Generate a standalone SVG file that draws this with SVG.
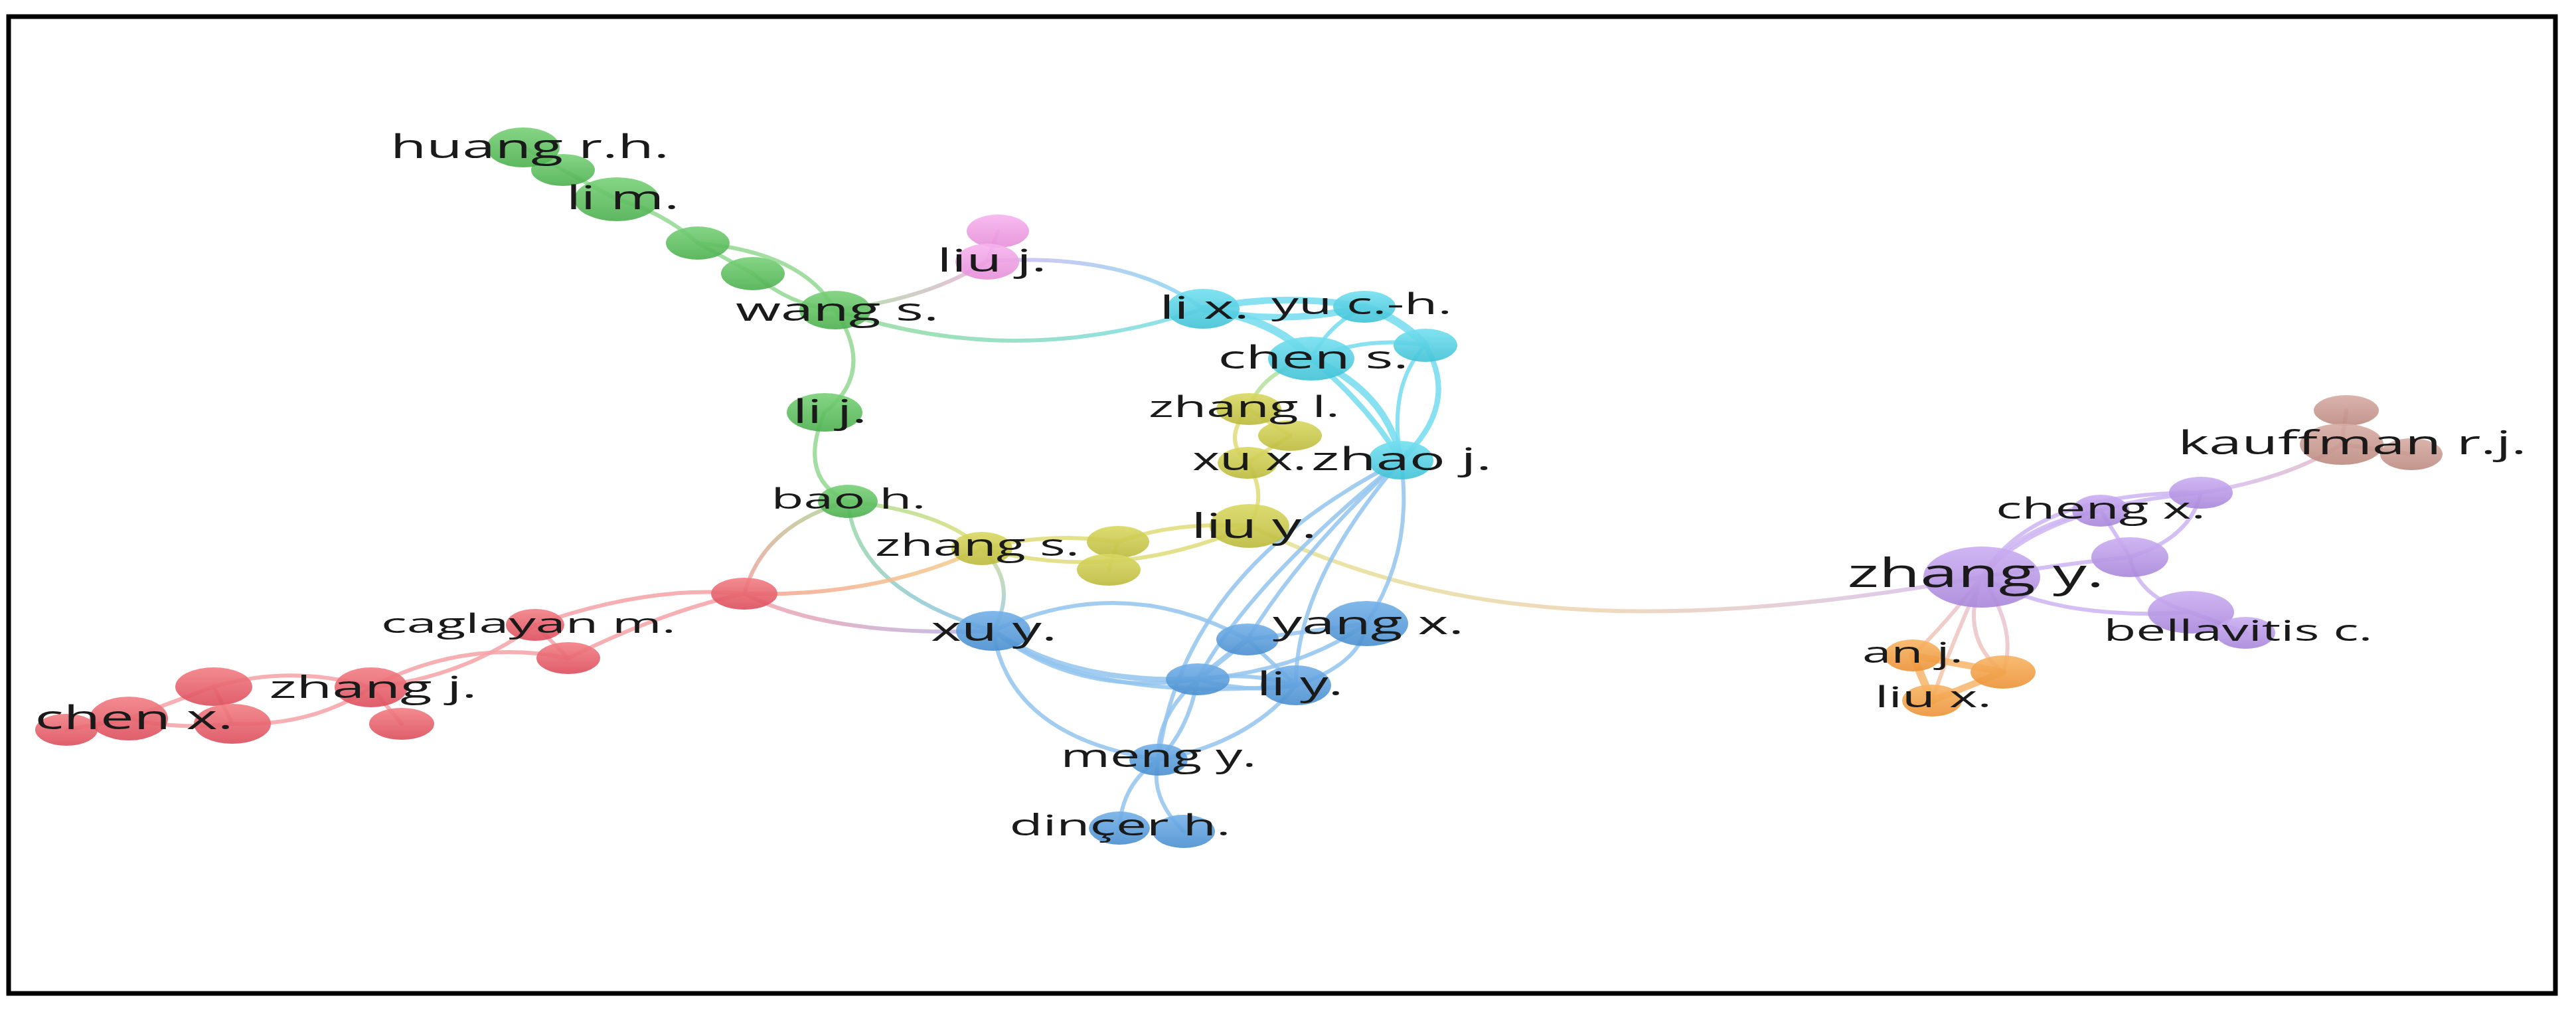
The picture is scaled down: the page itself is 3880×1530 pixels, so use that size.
<svg xmlns="http://www.w3.org/2000/svg" width="3880" height="1530" viewBox="0 0 3880 1530">
<defs>
<linearGradient id="fGreen" x1="0" y1="0" x2="0" y2="1"><stop offset="0" stop-color="#78d078"/><stop offset="1" stop-color="#4cb04e"/></linearGradient>
<linearGradient id="fRed" x1="0" y1="0" x2="0" y2="1"><stop offset="0" stop-color="#f27e84"/><stop offset="1" stop-color="#dc4d5c"/></linearGradient>
<linearGradient id="fCyan" x1="0" y1="0" x2="0" y2="1"><stop offset="0" stop-color="#74dff0"/><stop offset="1" stop-color="#40c2d6"/></linearGradient>
<linearGradient id="fYellow" x1="0" y1="0" x2="0" y2="1"><stop offset="0" stop-color="#d9d862"/><stop offset="1" stop-color="#bbba3c"/></linearGradient>
<linearGradient id="fBlue" x1="0" y1="0" x2="0" y2="1"><stop offset="0" stop-color="#74b0e8"/><stop offset="1" stop-color="#4a8fcf"/></linearGradient>
<linearGradient id="fPurple" x1="0" y1="0" x2="0" y2="1"><stop offset="0" stop-color="#cbaef2"/><stop offset="1" stop-color="#a886da"/></linearGradient>
<linearGradient id="fOrange" x1="0" y1="0" x2="0" y2="1"><stop offset="0" stop-color="#f7b464"/><stop offset="1" stop-color="#ec9236"/></linearGradient>
<linearGradient id="fBrown" x1="0" y1="0" x2="0" y2="1"><stop offset="0" stop-color="#d6aca4"/><stop offset="1" stop-color="#bc8a80"/></linearGradient>
<linearGradient id="fPink" x1="0" y1="0" x2="0" y2="1"><stop offset="0" stop-color="#f6b4ee"/><stop offset="1" stop-color="#e68ed8"/></linearGradient>
<linearGradient id="gWangLiuj" gradientUnits="userSpaceOnUse" x1="1258" y1="467" x2="1487" y2="393"><stop offset="0" stop-color="#a8dca0"/><stop offset="1" stop-color="#e8b0d8"/></linearGradient>
<linearGradient id="gWangLix" gradientUnits="userSpaceOnUse" x1="1258" y1="467" x2="1812" y2="465"><stop offset="0" stop-color="#94da94"/><stop offset="1" stop-color="#7adcee"/></linearGradient>
<linearGradient id="gLiujLix" gradientUnits="userSpaceOnUse" x1="1487" y1="393" x2="1812" y2="465"><stop offset="0" stop-color="#d6b8f0"/><stop offset="1" stop-color="#80d8f0"/></linearGradient>
<linearGradient id="gBaoZs" gradientUnits="userSpaceOnUse" x1="1277" y1="755" x2="1479" y2="826"><stop offset="0" stop-color="#a6dc96"/><stop offset="1" stop-color="#dede78"/></linearGradient>
<linearGradient id="gBaoRed" gradientUnits="userSpaceOnUse" x1="1277" y1="755" x2="1121" y2="894"><stop offset="0" stop-color="#a8d898"/><stop offset="1" stop-color="#f4a09a"/></linearGradient>
<linearGradient id="gBaoXuy" gradientUnits="userSpaceOnUse" x1="1277" y1="755" x2="1496" y2="950"><stop offset="0" stop-color="#9ad8a4"/><stop offset="1" stop-color="#8cc2ec"/></linearGradient>
<linearGradient id="gZsRed" gradientUnits="userSpaceOnUse" x1="1479" y1="826" x2="1121" y2="894"><stop offset="0" stop-color="#f2d08a"/><stop offset="1" stop-color="#f6a092"/></linearGradient>
<linearGradient id="gZsXuy" gradientUnits="userSpaceOnUse" x1="1479" y1="826" x2="1496" y2="950"><stop offset="0" stop-color="#d2dc94"/><stop offset="1" stop-color="#94c8e8"/></linearGradient>
<linearGradient id="gRedXuy" gradientUnits="userSpaceOnUse" x1="1121" y1="894" x2="1496" y2="950"><stop offset="0" stop-color="#f2a2a8"/><stop offset="1" stop-color="#b4b4e8"/></linearGradient>
<linearGradient id="gChenZl" gradientUnits="userSpaceOnUse" x1="1975" y1="540" x2="1881" y2="616"><stop offset="0" stop-color="#9ee0b4"/><stop offset="1" stop-color="#c4e08c"/></linearGradient>
<linearGradient id="gLiuyZy" gradientUnits="userSpaceOnUse" x1="1882" y1="792" x2="2985" y2="869"><stop offset="0" stop-color="#e4e28c"/><stop offset="0.5" stop-color="#ecd2b4"/><stop offset="1" stop-color="#d4bcf2"/></linearGradient>
<linearGradient id="gZyOr" gradientUnits="userSpaceOnUse" x1="2985" y1="869" x2="2900" y2="1030"><stop offset="0" stop-color="#e4c4e0"/><stop offset="1" stop-color="#f6c4a0"/></linearGradient>
<linearGradient id="gPKauf" gradientUnits="userSpaceOnUse" x1="3315" y1="742" x2="3527" y2="669"><stop offset="0" stop-color="#d4bcf2"/><stop offset="1" stop-color="#e2bcc6"/></linearGradient>
<style>
.nd{fill-opacity:0.9}
.green{fill:url(#fGreen)} .red{fill:url(#fRed)} .cyan{fill:url(#fCyan)} .yellow{fill:url(#fYellow)} .blue{fill:url(#fBlue)} .purple{fill:url(#fPurple)} .orange{fill:url(#fOrange)} .brown{fill:url(#fBrown)} .pink{fill:url(#fPink)}
.lb{font-family:"Open Sans","Noto Sans","DejaVu Sans",sans-serif;fill:#1a1a1a;text-anchor:middle}
#edges path{fill:none;stroke-linecap:round;stroke-opacity:0.85;stroke-width:6}
.eg{stroke:#92d892} .ey{stroke:#dedc78} .ec{stroke:#72dcee} .eb{stroke:#92c4ee} .er{stroke:#f4a2a6} .ep{stroke:#ccb4f2} .eo{stroke:#f6b46a} .ebr{stroke:#d8aaa2} .epk{stroke:#eeaee2}
</style>
</defs>
<rect x="0" y="0" width="3880" height="1530" fill="#ffffff"/>
<rect x="13" y="25" width="3836" height="1471" fill="none" stroke="#000000" stroke-width="7"/>
<g id="edges">
<path class="eg" d="M789,221 L848,256"/>
<path class="eg" d="M848,256 L929,300"/>
<path class="eg" d="M929,300 Q1000,320 1051,366"/>
<path class="eg" d="M1051,366 Q1210,380 1258,467"/>
<path class="eg" d="M1051,366 L1134,412"/>
<path class="eg" d="M1134,412 Q1190,460 1258,467"/>
<path class="eg" d="M1258,467 Q1320,560 1242,621"/>
<path class="eg" d="M1242,621 Q1200,720 1277,755"/>
<path class="epk" d="M1503,348 L1487,393"/>
<path stroke="url(#gWangLiuj)" d="M1258,467 Q1400,450 1487,393"/>
<path stroke="url(#gWangLix)" d="M1258,467 Q1530,560 1812,465"/>
<path stroke="url(#gLiujLix)" d="M1487,393 Q1700,380 1812,465"/>
<path stroke="url(#gBaoZs)" d="M1277,755 Q1420,770 1479,826"/>
<path stroke="url(#gBaoRed)" d="M1277,755 Q1150,790 1121,894"/>
<path stroke="url(#gBaoXuy)" d="M1277,755 Q1290,890 1496,950"/>
<path stroke="url(#gZsRed)" d="M1479,826 Q1320,900 1121,894"/>
<path stroke="url(#gZsXuy)" d="M1479,826 Q1535,880 1496,950"/>
<path stroke="url(#gRedXuy)" d="M1121,894 Q1250,960 1496,950"/>
<path stroke="url(#gChenZl)" d="M1975,540 Q1900,560 1881,616"/>
<path stroke="url(#gLiuyZy)" d="M1882,792 C2150,920 2450,965 2985,869"/>
<path class="ey" d="M1881,616 L1943,656"/>
<path class="ey" d="M1881,616 Q1840,660 1879,697"/>
<path class="ey" d="M1879,697 Q1910,745 1882,792"/>
<path class="ey" d="M1879,697 L1943,656"/>
<path class="ey" d="M1882,792 Q1770,785 1684,816"/>
<path class="ey" d="M1684,816 Q1580,800 1479,826"/>
<path class="ey" d="M1479,826 Q1680,880 1882,792"/>
<path class="ey" d="M1684,816 L1670,858"/>
<path class="ec" style="stroke-width:10" d="M1812,465 Q1930,440 2055,462"/>
<path class="ec" style="stroke-width:10" d="M1812,465 Q1930,492 2055,462"/>
<path class="ec" style="stroke-width:12" d="M1812,465 Q1920,480 1975,540"/>
<path class="ec" style="stroke-width:12" d="M2055,462 Q2110,480 2147,520"/>
<path class="ec" d="M2055,462 Q2000,490 1975,540"/>
<path class="ec" d="M1975,540 Q2060,505 2147,520"/>
<path class="ec" style="stroke-width:10" d="M1975,540 Q2090,590 2110,693"/>
<path class="ec" style="stroke-width:8" d="M1975,540 Q2060,610 2110,693"/>
<path class="ec" style="stroke-width:8" d="M2147,520 Q2200,610 2110,693"/>
<path class="ec" d="M2147,520 Q2090,580 2110,693"/>
<path class="eb" d="M2110,693 Q1780,860 1745,1144"/>
<path class="eb" d="M2110,693 Q1880,880 1804,1023"/>
<path class="eb" d="M2110,693 Q1950,880 1952,1032"/>
<path class="eb" d="M2110,693 Q2130,830 2058,939"/>
<path class="eb" d="M2110,693 Q1960,830 1879,963"/>
<path class="eb" d="M1496,950 Q1690,860 1879,963"/>
<path class="eb" style="stroke-width:8" d="M1496,950 Q1610,1030 1804,1023"/>
<path class="eb" d="M1496,950 Q1620,1050 1804,1023"/>
<path class="eb" d="M1496,950 Q1640,1060 1952,1032"/>
<path class="eb" d="M1496,950 Q1520,1110 1745,1144"/>
<path class="eb" d="M1879,963 L2058,939"/>
<path class="eb" style="stroke-width:8" d="M1879,963 L1804,1023"/>
<path class="eb" d="M1879,963 L1952,1032"/>
<path class="eb" d="M1804,1023 Q1880,1010 1952,1032"/>
<path class="eb" d="M1804,1023 Q1880,1045 1952,1032"/>
<path class="eb" d="M2058,939 Q2050,1000 1952,1032"/>
<path class="eb" d="M2058,939 Q1960,1010 1804,1023"/>
<path class="eb" d="M1804,1023 Q1740,1080 1745,1144"/>
<path class="eb" d="M1804,1023 Q1790,1100 1745,1144"/>
<path class="eb" d="M1952,1032 Q1880,1120 1745,1144"/>
<path class="eb" d="M1745,1144 Q1690,1180 1686,1247"/>
<path class="eb" d="M1745,1144 Q1730,1200 1783,1252"/>
<path class="er" d="M1121,894 Q980,880 806,941"/>
<path class="er" d="M1121,894 Q1000,920 856,991"/>
<path class="er" d="M806,941 L856,991"/>
<path class="er" d="M806,941 Q700,1020 559,1035"/>
<path class="er" d="M856,991 Q700,960 559,1035"/>
<path class="er" d="M559,1035 L605,1090"/>
<path class="er" d="M559,1035 Q440,1000 322,1034"/>
<path class="er" d="M559,1035 Q470,1095 350,1090"/>
<path class="er" d="M322,1034 L194,1082"/>
<path class="er" d="M322,1034 L350,1090"/>
<path class="er" d="M194,1082 L100,1099"/>
<path class="er" d="M194,1082 Q270,1100 350,1090"/>
<path class="ep" d="M2985,869 Q3040,790 3164,769"/>
<path class="ep" d="M2985,869 Q3060,740 3315,742"/>
<path class="ep" d="M2985,869 Q3070,765 3315,742"/>
<path class="ep" d="M3164,769 L3208,839"/>
<path class="ep" d="M3315,742 Q3300,810 3208,839"/>
<path class="ep" d="M3208,839 Q3220,900 3300,922"/>
<path class="ep" d="M2985,869 Q3100,935 3300,922"/>
<path class="ep" d="M2985,869 Q3100,850 3208,839"/>
<path class="ep" d="M3300,922 L3382,953"/>
<path stroke="url(#gPKauf)" d="M3315,742 Q3450,720 3527,669"/>
<path stroke="url(#gZyOr)" d="M2985,869 Q2930,940 2881,987"/>
<path stroke="url(#gZyOr)" d="M2985,869 Q2950,960 3017,1012"/>
<path stroke="url(#gZyOr)" d="M2985,869 Q3040,950 3017,1012"/>
<path stroke="url(#gZyOr)" d="M2985,869 Q2935,980 2910,1055"/>
<path class="eo" style="stroke-width:12" d="M2881,987 L2910,1055"/>
<path class="eo" style="stroke-width:10" d="M2881,987 L3017,1012"/>
<path class="eo" style="stroke-width:10" d="M3017,1012 L2910,1055"/>
<path class="ebr" d="M3534,618 L3527,669"/>
<path class="ebr" d="M3527,669 L3632,684"/>
</g>
<g id="n-green-2"><ellipse class="nd green" cx="848" cy="256" rx="48" ry="24"/></g>
<g id="n-green-4"><ellipse class="nd green" cx="1051" cy="366" rx="48" ry="25"/></g>
<g id="n-green-5"><ellipse class="nd green" cx="1134" cy="412" rx="48" ry="25"/></g>
<g id="n-pink-2"><ellipse class="nd pink" cx="1503" cy="348" rx="47" ry="25"/></g>
<g id="n-cyan-5"><ellipse class="nd cyan" cx="2147" cy="520" rx="48" ry="25"/></g>
<g id="n-yellow-2"><ellipse class="nd yellow" cx="1943" cy="656" rx="48" ry="23"/></g>
<g id="n-yellow-a"><ellipse class="nd yellow" cx="1684" cy="816" rx="47" ry="24"/></g>
<g id="n-yellow-b"><ellipse class="nd yellow" cx="1670" cy="858" rx="48" ry="24"/></g>
<g id="n-blue-a"><ellipse class="nd blue" cx="1879" cy="963" rx="47" ry="24"/></g>
<g id="n-blue-b"><ellipse class="nd blue" cx="1804" cy="1023" rx="48" ry="24"/></g>
<g id="n-blue-dincer-2"><ellipse class="nd blue" cx="1783" cy="1252" rx="47" ry="25"/></g>
<g id="n-red-hub"><ellipse class="nd red" cx="1121" cy="894" rx="50" ry="24"/></g>
<g id="n-red-b"><ellipse class="nd red" cx="856" cy="991" rx="48" ry="24"/></g>
<g id="n-red-c"><ellipse class="nd red" cx="605" cy="1090" rx="49" ry="24"/></g>
<g id="n-red-d"><ellipse class="nd red" cx="322" cy="1034" rx="58" ry="29"/></g>
<g id="n-red-e"><ellipse class="nd red" cx="100" cy="1099" rx="47" ry="24"/></g>
<g id="n-red-f"><ellipse class="nd red" cx="350" cy="1090" rx="58" ry="30"/></g>
<g id="n-purple-a"><ellipse class="nd purple" cx="3315" cy="742" rx="48" ry="24"/></g>
<g id="n-purple-b"><ellipse class="nd purple" cx="3208" cy="839" rx="58" ry="30"/></g>
<g id="n-purple-c"><ellipse class="nd purple" cx="3300" cy="922" rx="65" ry="32"/></g>
<g id="n-orange-b"><ellipse class="nd orange" cx="3017" cy="1012" rx="49" ry="25"/></g>
<g id="n-brown-top"><ellipse class="nd brown" cx="3534" cy="618" rx="49" ry="23"/></g>
<g id="n-brown-right"><ellipse class="nd brown" cx="3632" cy="684" rx="47" ry="24"/></g>
<g id="n-huang-rh"><ellipse class="nd green" cx="788" cy="222" rx="55" ry="30"/><text class="lb" x="798" y="238" font-size="49" textLength="420" lengthAdjust="spacingAndGlyphs">huang r.h.</text></g>
<g id="n-li-m"><ellipse class="nd green" cx="929" cy="300" rx="64" ry="33"/><text class="lb" x="938" y="315" font-size="49" textLength="170" lengthAdjust="spacingAndGlyphs">li m.</text></g>
<g id="n-wang-s"><ellipse class="nd green" cx="1258" cy="467" rx="54" ry="29"/><text class="lb" x="1261" y="483" font-size="48" textLength="306" lengthAdjust="spacingAndGlyphs">wang s.</text></g>
<g id="n-li-j"><ellipse class="nd green" cx="1242" cy="621" rx="57" ry="29"/><text class="lb" x="1250" y="637" font-size="49" textLength="112" lengthAdjust="spacingAndGlyphs">li j.</text></g>
<g id="n-bao-h"><ellipse class="nd green" cx="1277" cy="755" rx="45" ry="25"/><text class="lb" x="1278" y="766" font-size="42" textLength="233" lengthAdjust="spacingAndGlyphs">bao h.</text></g>
<g id="n-liu-j"><ellipse class="nd pink" cx="1487" cy="394" rx="48" ry="27"/><text class="lb" x="1494" y="409" font-size="47" textLength="165" lengthAdjust="spacingAndGlyphs">liu j.</text></g>
<g id="n-li-x"><ellipse class="nd cyan" cx="1812" cy="465" rx="55" ry="30"/><text class="lb" x="1814" y="480" font-size="47" textLength="135" lengthAdjust="spacingAndGlyphs">li x.</text></g>
<g id="n-yu-ch"><ellipse class="nd cyan" cx="2055" cy="462" rx="47" ry="24"/><text class="lb" x="2051" y="473" font-size="44" textLength="272" lengthAdjust="spacingAndGlyphs">yu c.-h.</text></g>
<g id="n-chen-s"><ellipse class="nd cyan" cx="1975" cy="540" rx="65" ry="33"/><text class="lb" x="1978" y="555" font-size="47" textLength="287" lengthAdjust="spacingAndGlyphs">chen s.</text></g>
<g id="n-zhang-l"><ellipse class="nd yellow" cx="1881" cy="616" rx="49" ry="24"/><text class="lb" x="1874" y="628" font-size="44" textLength="288" lengthAdjust="spacingAndGlyphs">zhang l.</text></g>
<g id="n-xu-x"><ellipse class="nd yellow" cx="1879" cy="697" rx="45" ry="24"/><text class="lb" x="1882" y="708" font-size="47" textLength="172" lengthAdjust="spacingAndGlyphs">xu x.</text></g>
<g id="n-zhao-j"><ellipse class="nd cyan" cx="2110" cy="693" rx="49" ry="29"/><text class="lb" x="2111" y="708" font-size="48" textLength="272" lengthAdjust="spacingAndGlyphs">zhao j.</text></g>
<g id="n-liu-y"><ellipse class="nd yellow" cx="1882" cy="792" rx="60" ry="33"/><text class="lb" x="1889" y="810" font-size="51" textLength="189" lengthAdjust="spacingAndGlyphs">liu y.</text></g>
<g id="n-zhang-s"><ellipse class="nd yellow" cx="1479" cy="826" rx="46" ry="25"/><text class="lb" x="1472" y="837" font-size="46" textLength="308" lengthAdjust="spacingAndGlyphs">zhang s.</text></g>
<g id="n-xu-y"><ellipse class="nd blue" cx="1496" cy="950" rx="56" ry="30"/><text class="lb" x="1497" y="965" font-size="49" textLength="190" lengthAdjust="spacingAndGlyphs">xu y.</text></g>
<g id="n-yang-x"><ellipse class="nd blue" cx="2058" cy="939" rx="63" ry="34"/><text class="lb" x="2061" y="955" font-size="47" textLength="288" lengthAdjust="spacingAndGlyphs">yang x.</text></g>
<g id="n-li-y"><ellipse class="nd blue" cx="1952" cy="1032" rx="53" ry="30"/><text class="lb" x="1958" y="1047" font-size="49" textLength="130" lengthAdjust="spacingAndGlyphs">li y.</text></g>
<g id="n-meng-y"><ellipse class="nd blue" cx="1745" cy="1144" rx="44" ry="24"/><text class="lb" x="1745" y="1155" font-size="47" textLength="295" lengthAdjust="spacingAndGlyphs">meng y.</text></g>
<g id="n-dincer-h"><ellipse class="nd blue" cx="1686" cy="1247" rx="46" ry="25"/><text class="lb" x="1687" y="1258" font-size="43" textLength="333" lengthAdjust="spacingAndGlyphs">dinçer h.</text></g>
<g id="n-caglayan-m"><ellipse class="nd red" cx="806" cy="941" rx="44" ry="24"/><text class="lb" x="796" y="953" font-size="41" textLength="444" lengthAdjust="spacingAndGlyphs">caglayan m.</text></g>
<g id="n-zhang-j"><ellipse class="nd red" cx="559" cy="1035" rx="55" ry="30"/><text class="lb" x="562" y="1051" font-size="46" textLength="313" lengthAdjust="spacingAndGlyphs">zhang j.</text></g>
<g id="n-chen-x"><ellipse class="nd red" cx="194" cy="1082" rx="59" ry="33"/><text class="lb" x="202" y="1098" font-size="49" textLength="299" lengthAdjust="spacingAndGlyphs">chen x.</text></g>
<g id="n-cheng-x"><ellipse class="nd purple" cx="3164" cy="769" rx="43" ry="24"/><text class="lb" x="3164" y="781" font-size="43" textLength="316" lengthAdjust="spacingAndGlyphs">cheng x.</text></g>
<g id="n-zhang-y"><ellipse class="nd purple" cx="2985" cy="869" rx="88" ry="46"/><text class="lb" x="2976" y="884" font-size="60" textLength="387" lengthAdjust="spacingAndGlyphs">zhang y.</text></g>
<g id="n-bellavitis-c"><ellipse class="nd purple" cx="3382" cy="953" rx="45" ry="24"/><text class="lb" x="3371" y="965" font-size="43" textLength="405" lengthAdjust="spacingAndGlyphs">bellavitis c.</text></g>
<g id="n-an-j"><ellipse class="nd orange" cx="2881" cy="987" rx="43" ry="24"/><text class="lb" x="2881" y="998" font-size="43" textLength="152" lengthAdjust="spacingAndGlyphs">an j.</text></g>
<g id="n-liu-x"><ellipse class="nd orange" cx="2910" cy="1055" rx="45" ry="24"/><text class="lb" x="2912" y="1065" font-size="43" textLength="176" lengthAdjust="spacingAndGlyphs">liu x.</text></g>
<g id="n-kauffman-rj"><ellipse class="nd brown" cx="3527" cy="669" rx="63" ry="31"/><text class="lb" x="3543" y="684" font-size="49" textLength="525" lengthAdjust="spacingAndGlyphs">kauffman r.j.</text></g>
</svg>
